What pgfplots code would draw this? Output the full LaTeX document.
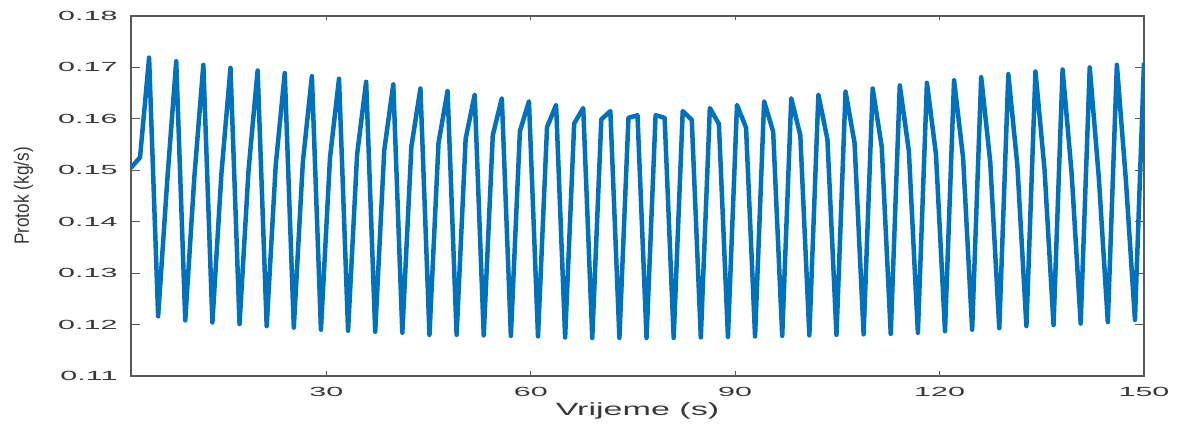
\documentclass[border=0pt]{standalone}
\usepackage{fontspec}
\setmainfont{Liberation Sans}
\usepackage{graphicx}
\usepackage{pgfplots}
\pgfplotsset{compat=1.18}
\usepackage{pgfplotstable}
\definecolor{mblue}{rgb}{0,0.447,0.741}
\definecolor{axgray}{gray}{0.35}
\definecolor{txtgray}{gray}{0.22}
\pgfplotstableread{
t y
1.327 0.1505
2.655 0.1525
3.982 0.1719
5.310 0.1216
6.637 0.1478
7.965 0.1712
9.292 0.1208
10.619 0.1486
11.947 0.1705
13.274 0.1204
14.602 0.1494
15.929 0.1699
17.257 0.1201
18.584 0.1501
19.912 0.1694
21.239 0.1197
22.566 0.1509
23.894 0.1689
25.221 0.1194
26.549 0.1516
27.876 0.1683
29.204 0.1190
30.531 0.1524
31.858 0.1678
33.186 0.1188
34.513 0.1531
35.841 0.1672
37.168 0.1186
38.496 0.1539
39.823 0.1667
41.150 0.1184
42.478 0.1546
43.805 0.1659
45.133 0.1180
46.460 0.1553
47.788 0.1654
49.115 0.1180
50.442 0.1561
51.770 0.1647
53.097 0.1179
54.425 0.1568
55.752 0.1640
57.080 0.1178
58.407 0.1576
59.735 0.1634
61.062 0.1177
62.389 0.1584
63.717 0.1627
65.044 0.1175
66.372 0.1591
67.699 0.1621
69.027 0.1174
70.354 0.1599
71.681 0.1615
73.009 0.1174
74.336 0.1602
75.664 0.1607
76.991 0.1174
78.319 0.1607
79.646 0.1602
80.973 0.1174
82.301 0.1615
83.628 0.1598
84.956 0.1175
86.283 0.1621
87.611 0.1590
88.938 0.1176
90.265 0.1627
91.593 0.1583
92.920 0.1177
94.248 0.1634
95.575 0.1575
96.903 0.1178
98.230 0.1640
99.558 0.1568
100.885 0.1179
102.212 0.1647
103.540 0.1560
104.867 0.1180
106.195 0.1653
107.522 0.1553
108.850 0.1181
110.177 0.1659
111.504 0.1546
112.832 0.1182
114.159 0.1665
115.487 0.1538
116.814 0.1184
118.142 0.1670
119.469 0.1531
120.796 0.1187
122.124 0.1675
123.451 0.1524
124.779 0.1190
126.106 0.1681
127.434 0.1516
128.761 0.1193
130.088 0.1687
131.416 0.1509
132.743 0.1197
134.071 0.1692
135.398 0.1502
136.726 0.1199
138.053 0.1696
139.381 0.1494
140.708 0.1202
142.035 0.1700
143.363 0.1487
144.690 0.1205
146.018 0.1705
147.345 0.1480
148.673 0.1209
150.000 0.1709
}\flowdata
\begin{document}
\begin{tikzpicture}
\begin{axis}[
  scale only axis,
  width=405.2pt, height=144pt,
  xmin=1.327, xmax=150, ymin=0.11, ymax=0.18,
  xtick={30,60,90,120,150},
  ytick={0.11,0.12,0.13,0.14,0.15,0.16,0.17,0.18},
  tick align=inside, tick pos=both,
  axis line style={axgray, line width=0.5pt},
  every tick/.style={axgray, line width=0.5pt},
  xtick style={/pgfplots/major tick length=1.8pt},
  ytick style={/pgfplots/major tick length=3.6pt},
  /pgf/number format/assume math mode=true,
  xticklabel={\scalebox{2.3}[1]{\pgfmathprintnumber{\tick}}},
  yticklabel={\scalebox{2.3}[1]{\pgfmathprintnumber[fixed,fixed zerofill,precision=2]{\tick}}},
  ticklabel style={font=\fontsize{5.3}{6}\selectfont, text=txtgray, inner sep=0pt},
  xticklabel style={anchor=center, yshift=-6.4pt},
  yticklabel style={anchor=east, xshift=-5.2pt},
  xlabel={\scalebox{1.92}[1]{Vrijeme (s)}},
  ylabel={\scalebox{1}[1.2]{Protok (kg/s)}},
  label style={text=txtgray},
  xlabel style={font=\fontsize{7.1}{8}\selectfont, at={(axis description cs:0.5,-0.0965)}, anchor=center},
  ylabel style={font=\fontsize{6.9}{8}\selectfont, at={(axis description cs:-0.1061,0.5)}, anchor=center},
]
\addplot[mblue, line width=1.8pt, line join=round] table[x=t,y=y]{\flowdata};
\end{axis}
\pgfresetboundingbox
\path[use as bounding box] ([shift={(-52.4pt,-19.2pt)}]current axis.south west) rectangle ([shift={(14.4pt,6.4pt)}]current axis.north east);
\end{tikzpicture}
\end{document}
